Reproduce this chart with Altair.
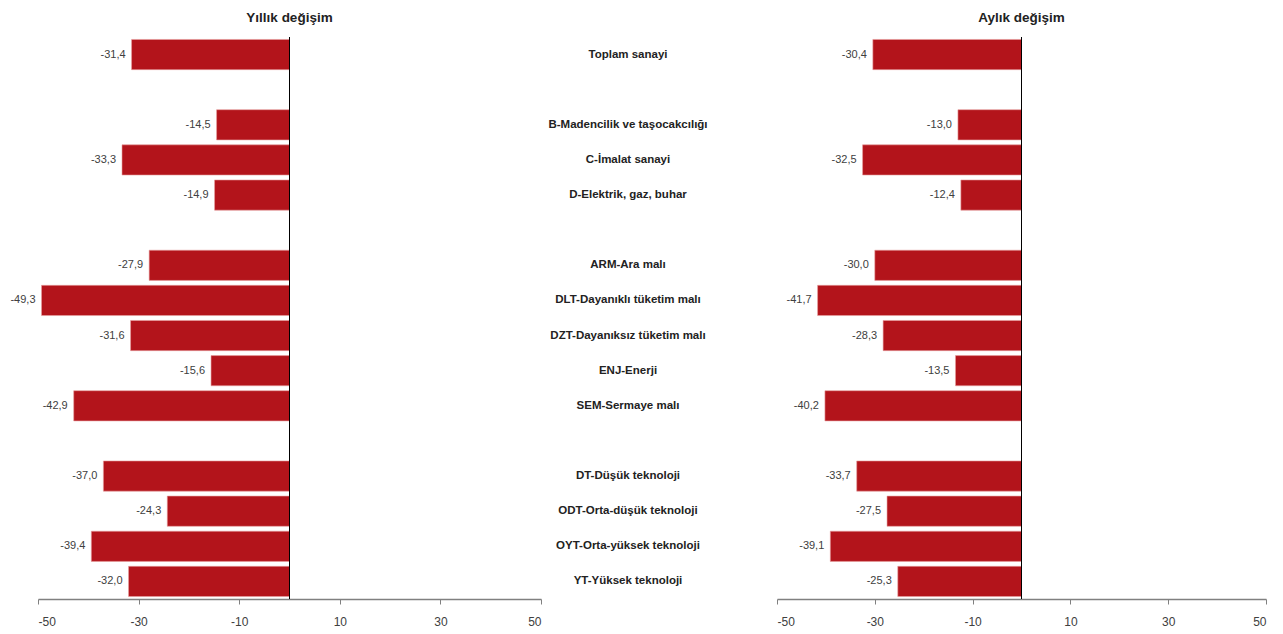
import altair as alt
import pandas as pd

categories = [
    "Toplam sanayi", " ",
    "B-Madencilik ve taşocakcılığı", "C-İmalat sanayi", "D-Elektrik, gaz, buhar", "  ",
    "ARM-Ara malı", "DLT-Dayanıklı tüketim malı", "DZT-Dayanıksız tüketim malı",
    "ENJ-Enerji", "SEM-Sermaye malı", "   ",
    "DT-Düşük teknoloji", "ODT-Orta-düşük teknoloji", "OYT-Orta-yüksek teknoloji",
    "YT-Yüksek teknoloji",
]
labelled = [c for c in categories if c.strip()]
yearly = [-31.4, -14.5, -33.3, -14.9, -27.9, -49.3, -31.6, -15.6, -42.9, -37.0, -24.3, -39.4, -32.0]
monthly = [-30.4, -13.0, -32.5, -12.4, -30.0, -41.7, -28.3, -13.5, -40.2, -33.7, -27.5, -39.1, -25.3]
ticks = [-50, -30, -10, 10, 30, 50]

def fmt(v):
    return f"{v:.1f}".replace(".", ",")

df = pd.DataFrame({
    "cat": labelled,
    "yearly": yearly,
    "monthly": monthly,
    "ylab": [fmt(v) for v in yearly],
    "mlab": [fmt(v) for v in monthly],
})

RED = "#B3141B"
FONT = "Liberation Sans"
H = 562

yscale = alt.Scale(domain=categories, paddingInner=0.14, paddingOuter=0.07)
yenc = alt.Y("cat:N", scale=yscale, axis=None)


def panel(field, lab, title, w):
    xs = alt.Scale(domain=[-50, 50], nice=False, zero=False)
    xaxis = alt.Axis(values=ticks, grid=False, title=None, domainColor="#808080",
                     tickColor="#808080", tickSize=5, labelPadding=12,
                     labelFontSize=12, labelColor="#404040", labelFont=FONT,
                     domainWidth=1.5, labelExpr="'' + datum.value")
    base = alt.Chart(df)
    bars = base.mark_bar(color=RED, stroke="#E8A0A0", strokeWidth=0.6).encode(
        x=alt.X(f"{field}:Q", scale=xs, axis=xaxis),
        x2=alt.datum(0),
        y=yenc,
    )
    text = base.mark_text(align="right", baseline="middle", dx=-6, fontSize=11,
                          font=FONT, color="#404040").encode(
        x=alt.X(f"{field}:Q", scale=xs),
        y=yenc,
        text=f"{lab}:N",
    )
    zero = alt.Chart(df).mark_rule(color="#000000", strokeWidth=1).encode(
        x=alt.datum(0)
    )
    return alt.layer(bars, text, zero).properties(
        width=w, height=H,
        title=alt.TitleParams(title, fontSize=13.5, font=FONT, fontWeight="bold",
                              color="#222222", offset=12, anchor="middle"),
    )


left = panel("yearly", "ylab", "Yıllık değişim", 503)
right = panel("monthly", "mlab", "Aylık değişim", 489)

middle = alt.Chart(df).mark_text(align="center", baseline="middle", dx=-31,
                                 fontSize=11.5, fontWeight="bold", font=FONT,
                                 color="#222222").encode(
    y=yenc,
    text="cat:N",
).properties(width=236, height=H)

chart = alt.hconcat(left, middle, right, spacing=0, bounds="flush").properties(
    padding={"left": 2, "top": 3, "right": 5, "bottom": 5},
    background="white",
).configure_view(stroke="transparent", strokeWidth=0)

chart.save("out.html", embed_options={"renderer": "svg", "actions": False})
